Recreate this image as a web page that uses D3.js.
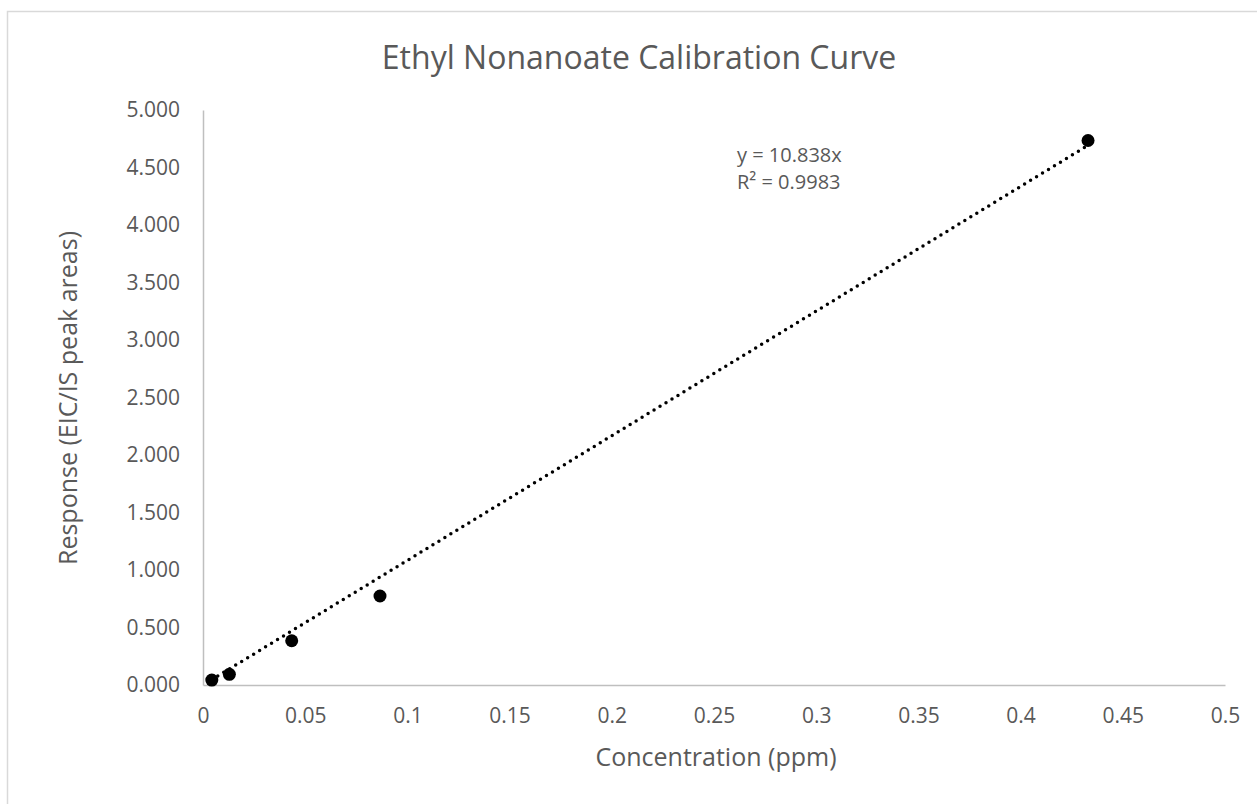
<!DOCTYPE html>
<html>
<head>
<meta charset="utf-8">
<script src="https://cdn.jsdelivr.net/npm/d3@7"></script>
<style>
  body { margin: 0; background: #fff; }
  text { font-family: "Open Sans", "Noto Sans", sans-serif; fill: #595959; }
</style>
</head>
<body>
<div id="scatter"></div>
<script>
// data
var concentration = [0.0043, 0.0129, 0.0434, 0.0866, 0.433];
var response = [0.043, 0.093, 0.385, 0.774, 4.735];
var slope = 10.838;
var rSquared = 0.9983;
var xTicks = [0, 0.05, 0.1, 0.15, 0.2, 0.25, 0.3, 0.35, 0.4, 0.45, 0.5];
var yTicks = [0, 0.5, 1, 1.5, 2, 2.5, 3, 3.5, 4, 4.5, 5];

var data = concentration.map(function(c, i) {
  return { x: c, y: response[i] };
});

var svgWidth = 1257;
var svgHeight = 804;

var margin = { top: 110, right: 32, bottom: 119, left: 203 };
var width = svgWidth - margin.left - margin.right;
var height = svgHeight - margin.top - margin.bottom;

var svg = d3.select("#scatter")
  .append("svg")
  .attr("width", svgWidth)
  .attr("height", svgHeight);

// chart border (runs off the right and bottom edges)
svg.append("rect")
  .attr("x", 7.5)
  .attr("y", 11.5)
  .attr("width", 1400)
  .attr("height", 1000)
  .attr("fill", "none")
  .attr("stroke", "#d9d9d9")
  .attr("stroke-width", 1.5);

var chartGroup = svg.append("g")
  .attr("transform", `translate(${margin.left}, ${margin.top})`);

var xScale = d3.scaleLinear().domain([0, 0.5]).range([0, width]);
var yScale = d3.scaleLinear().domain([0, 5]).range([height, 0]);

// axes
var bottomAxis = d3.axisBottom(xScale)
  .tickValues(xTicks)
  .tickSize(0)
  .tickPadding(23)
  .tickFormat(d => String(d));

var leftAxis = d3.axisLeft(yScale)
  .tickValues(yTicks)
  .tickSize(0)
  .tickPadding(23)
  .tickFormat(d3.format(".3f"));

var xAxisG = chartGroup.append("g")
  .attr("transform", `translate(0, ${height})`)
  .call(bottomAxis);

var yAxisG = chartGroup.append("g")
  .call(leftAxis);

[xAxisG, yAxisG].forEach(function(g) {
  g.select(".domain").attr("stroke", "#bfbfbf").attr("stroke-width", 1.5);
  g.selectAll("text")
    .attr("font-size", "21px")
    .attr("font-family", "Open Sans, sans-serif")
    .attr("fill", "#595959");
});

// trendline
var xExt = d3.extent(concentration);
chartGroup.append("line")
  .attr("x1", xScale(xExt[0]))
  .attr("y1", yScale(slope * xExt[0]))
  .attr("x2", xScale(xExt[1]))
  .attr("y2", yScale(slope * xExt[1]))
  .attr("stroke", "#000")
  .attr("stroke-width", 3.5)
  .attr("stroke-linecap", "round")
  .attr("stroke-dasharray", "0,7");

// points
chartGroup.selectAll("circle.pt")
  .data(data)
  .enter()
  .append("circle")
  .classed("pt", true)
  .attr("cx", d => xScale(d.x))
  .attr("cy", d => yScale(d.y))
  .attr("r", 6.5)
  .attr("fill", "#000");

// equation label
chartGroup.append("text")
  .attr("x", 534)
  .attr("y", 52)
  .attr("font-size", "20px")
  .text(`y = ${slope}x`);

chartGroup.append("text")
  .attr("x", 534)
  .attr("y", 79)
  .attr("font-size", "20px")
  .text(`R² = ${rSquared}`);

// titles
svg.append("text")
  .attr("x", 639)
  .attr("y", 69)
  .attr("text-anchor", "middle")
  .attr("font-size", "32px")
  .text("Ethyl Nonanoate Calibration Curve");

svg.append("text")
  .attr("transform", "rotate(-90)")
  .attr("x", -398)
  .attr("y", 77)
  .attr("text-anchor", "middle")
  .attr("font-size", "25px")
  .text("Response (EIC/IS peak areas)");

svg.append("text")
  .attr("x", 716)
  .attr("y", 766)
  .attr("text-anchor", "middle")
  .attr("font-size", "25px")
  .text("Concentration (ppm)");
</script>
</body>
</html>
